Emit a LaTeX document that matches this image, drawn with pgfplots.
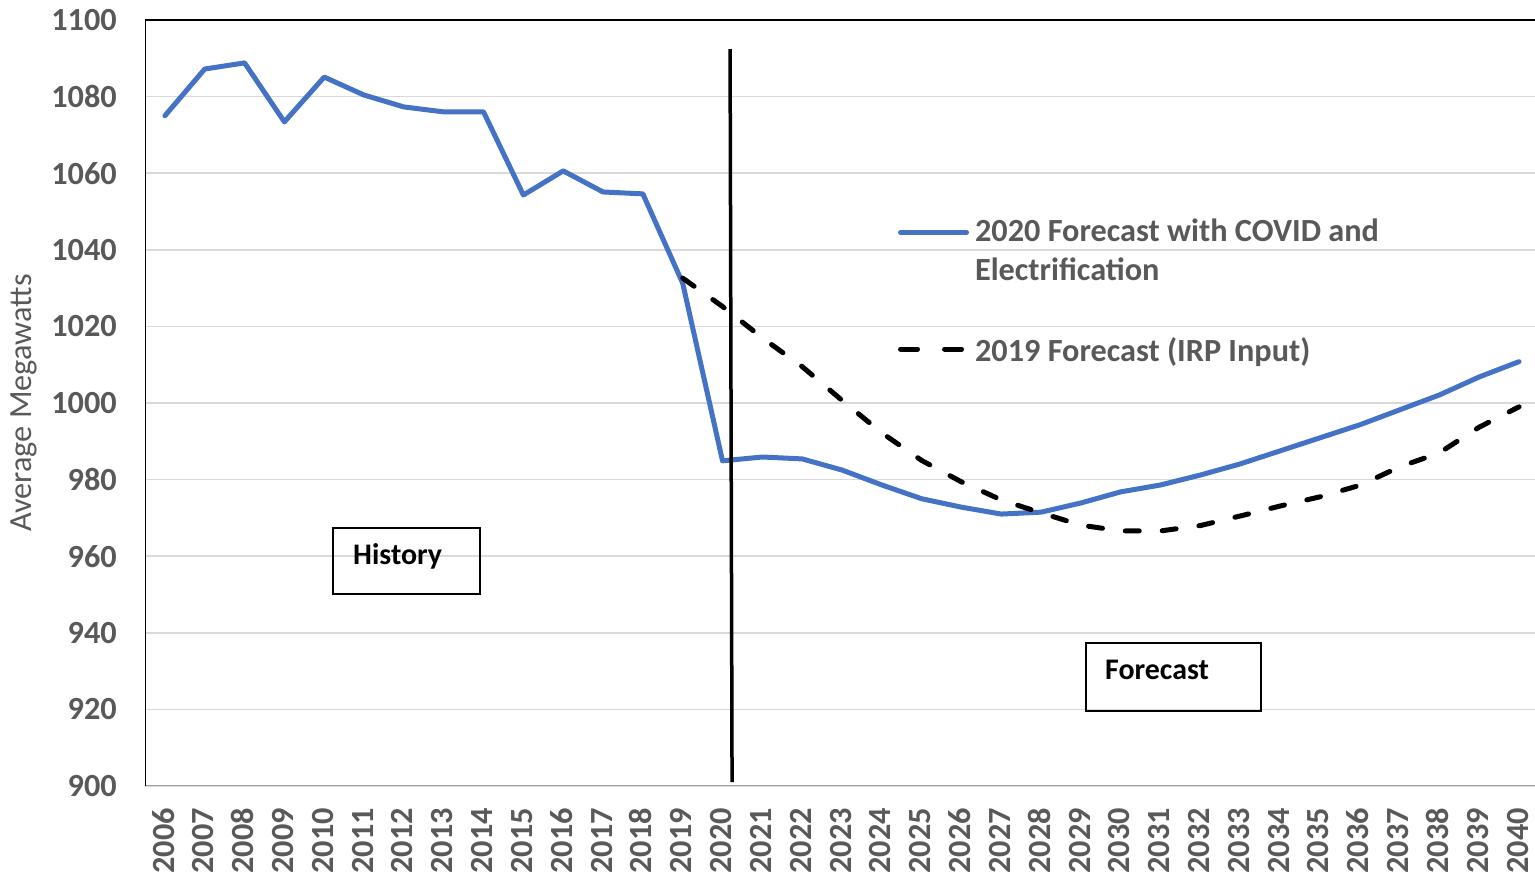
\documentclass[border=0pt]{standalone}
\usepackage{fontspec}
\setmainfont{Carlito}
\usepackage{pgfplots}
\pgfplotsset{compat=1.18}
\definecolor{tickgray}{HTML}{595959}
\definecolor{gridgray}{HTML}{D9D9D9}
\definecolor{axisgray}{HTML}{A0A0A0}
\definecolor{blueline}{HTML}{4472C4}
\begin{document}
\begin{tikzpicture}
\useasboundingbox (0,0) rectangle (1535bp,876bp);
\begin{axis}[
  at={(145bp,90bp)}, anchor=south west,
  scale only axis, width=1394bp, height=766bp,
  xmin=2005.5, xmax=2040.5, ymin=900, ymax=1100,
  xtick={2006,2007,...,2040}, ytick={900,920,...,1100},
  ymajorgrids, grid style={gridgray, line width=1.5bp},
  axis line style={draw=none},
  major tick length=0pt,
  /pgf/number format/assume math mode=true,
  /pgf/number format/1000 sep={},
  x tick label style={yshift=-22bp, xshift=6bp, rotate=90, anchor=east, inner sep=0pt,
    text height=0.63em, text depth=0pt,
    font=\fontsize{32.4}{38}\selectfont\bfseries, text=tickgray},
  y tick label style={anchor=east, inner sep=0pt, xshift=-28bp,
    font=\fontsize{32.4}{38}\selectfont\bfseries, text=tickgray},
  every axis y label/.style={at={(axis description cs:-0.0865,0.5)}, rotate=90, anchor=center,
    font=\fontsize{32.4}{38}\selectfont, text=tickgray},
  ylabel={Average Megawatts},
  legend style={at={(axis description cs:0.5402,0.741)}, anchor=north west,
    draw=none, fill=none, inner sep=0pt, outer sep=0pt,
    nodes={inner sep=0pt, outer sep=0pt},
    column sep=6bp, row sep=55bp,
    font=\fontsize{32.4}{40}\selectfont\bfseries, text=tickgray,
    cells={align=left, anchor=west}},
]
\addplot[blueline, line width=5bp, line join=round, line cap=round,
  legend image code/.code={\draw[blueline, line width=5bp, line cap=round] (-1.5bp,18bp) -- (64.5bp,18bp);}] coordinates {
(2006,1075.0) (2007,1087.2) (2008,1088.8) (2009,1073.4) (2010,1085.1)
(2011,1080.4) (2012,1077.3) (2013,1076.0) (2014,1076.0) (2015,1054.3)
(2016,1060.6) (2017,1055.1) (2018,1054.6) (2019,1031.3) (2020,984.9)
(2021,985.9) (2022,985.4) (2023,982.5) (2024,978.6) (2025,975.0)
(2026,972.8) (2027,971.0) (2028,971.5) (2029,973.9) (2030,976.8)
(2031,978.6) (2032,981.2) (2033,984.1) (2034,987.5) (2035,990.9)
(2036,994.3) (2037,998.2) (2038,1002.1) (2039,1006.8) (2040,1010.8)
};
\addlegendentry{2020 Forecast with COVID and\\Electrification}
\addplot[black, line width=5bp, line cap=round, dash pattern=on 14bp off 23bp,
  legend image code/.code={\draw[black, line width=5bp, line cap=round, dash pattern=on 17bp off 27bp] (-1.5bp,1bp) -- (59.5bp,1bp); \path (64.5bp,1bp);}] coordinates {
(2019,1032.6) (2020,1025.2) (2021,1017.0) (2022,1009.5) (2023,1000.7)
(2024,992.2) (2025,985.0) (2026,979.4) (2027,974.7) (2028,971.3)
(2029,968.1) (2030,966.6) (2031,966.6) (2032,968.0) (2033,970.5)
(2034,973.1) (2035,975.5) (2036,978.5) (2037,983.3) (2038,987.0)
(2039,993.7) (2040,999.0)
};
\addlegendentry{2019 Forecast (IRP Input)}
\draw[black, line width=3.5bp] (axis cs:2020.19,1092.4) -- (axis cs:2020.24,901.0);
\draw[axisgray, line width=2bp] (rel axis cs:0,0) -- (rel axis cs:1,0);
\draw[black, line width=2.5bp] (rel axis cs:0,0) -- (rel axis cs:0,1) -- (rel axis cs:1,1);
\end{axis}
\draw[black, line width=2bp] (333bp,348bp) rectangle (480bp,282bp);
\node[anchor=base west, inner sep=0pt, font=\fontsize{30}{36}\selectfont\bfseries] at (353bp,311bp) {History};
\draw[black, line width=2bp] (1086bp,233bp) rectangle (1261bp,165bp);
\node[anchor=base west, inner sep=0pt, font=\fontsize{30}{36}\selectfont\bfseries] at (1105bp,196bp) {Forecast};
\end{tikzpicture}
\end{document}
